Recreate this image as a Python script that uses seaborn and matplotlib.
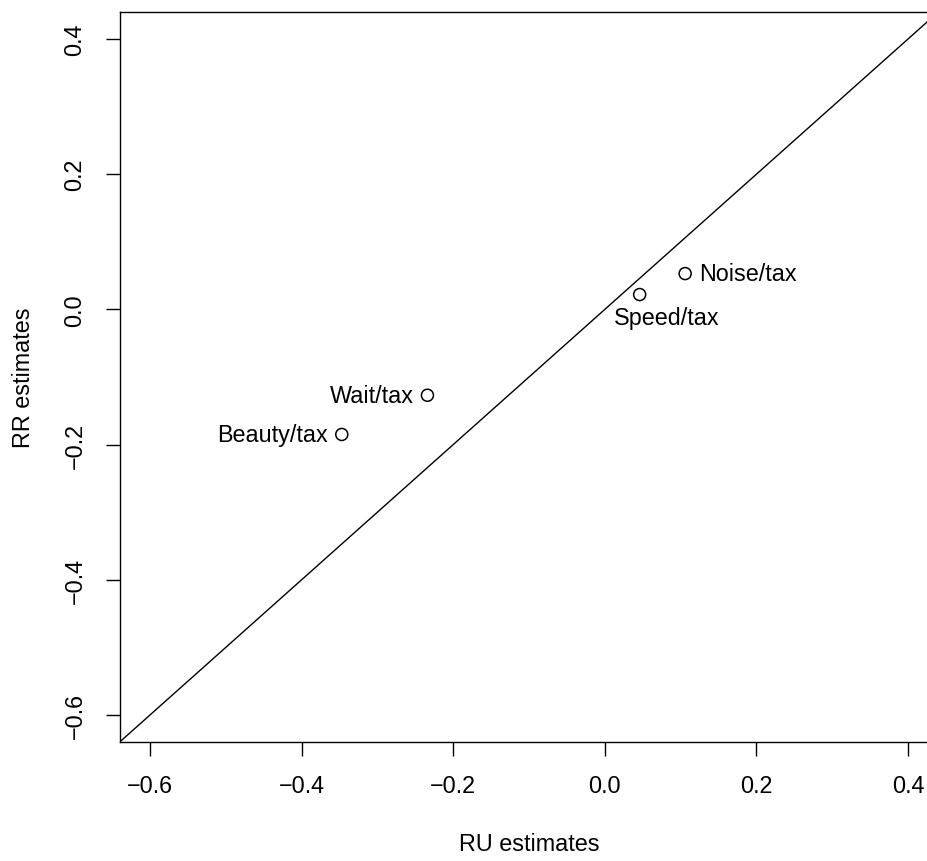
import matplotlib
matplotlib.use("Agg")
import matplotlib.pyplot as plt
import seaborn as sns
import pandas as pd

labels = ["Noise/tax", "Speed/tax", "Wait/tax", "Beauty/tax"]
ru = [0.106, 0.046, -0.234, -0.347]
rr = [0.053, 0.022, -0.127, -0.185]
positions = ["right", "below", "left", "left"]
ticks = [-0.6, -0.4, -0.2, 0.0, 0.2, 0.4]
tick_labels = ["\u22120.6", "\u22120.4", "\u22120.2", "0.0", "0.2", "0.4"]

sns.set_style("white")
plt.rcParams["font.family"] = ["Liberation Sans", "DejaVu Sans"]
for k in ["text.color", "axes.labelcolor", "xtick.color", "ytick.color", "axes.edgecolor"]:
    plt.rcParams[k] = "black"

FS = 16.8
df = pd.DataFrame({"RU": ru, "RR": rr, "label": labels})

W, H = 928, 862
fig = plt.figure(figsize=(W / 100, H / 100), dpi=100)
left, right, top, bottom = 119.7, 938.3, 13, 743
ax = fig.add_axes([left / W, (H - bottom) / H, (right - left) / W, (bottom - top) / H])

ax.axline((0, 0), slope=1, color="black", lw=1)
sns.scatterplot(data=df, x="RU", y="RR", ax=ax, marker="o", s=75,
                facecolor="none", edgecolor="black", linewidth=1.1, zorder=3)

for lab, x, y, p in zip(labels, ru, rr, positions):
    if p == "right":
        ax.annotate(lab, (x, y), xytext=(10, 0), textcoords="offset points",
                    ha="left", va="center", fontsize=FS)
    elif p == "left":
        ax.annotate(lab, (x, y), xytext=(-10, 0), textcoords="offset points",
                    ha="right", va="center", fontsize=FS)
    else:
        ax.annotate(lab, (x, y), xytext=(19.5, -16.5), textcoords="offset points",
                    ha="center", va="center", fontsize=FS)

ax.set_xlim(-0.64, 0.44)
ax.set_ylim(-0.64, 0.44)
ax.set_xticks(ticks)
ax.set_xticklabels(tick_labels)
ax.set_yticks(ticks)
ax.set_yticklabels(tick_labels, rotation=90, va="center")
ax.tick_params(axis="both", which="major", direction="out", length=10, width=1,
               color="black", labelsize=FS, bottom=True, left=True)
ax.tick_params(axis="x", pad=13)
ax.tick_params(axis="y", pad=14)
for s in ax.spines.values():
    s.set_color("black")
    s.set_linewidth(1)
ax.set_xlabel("RU estimates", fontsize=FS, va="center")
ax.set_ylabel("RR estimates", fontsize=FS, va="center")
ax.xaxis.set_label_coords(0.5, (bottom - 845) / (bottom - top))
ax.yaxis.set_label_coords((24 - left) / (right - left), 0.5)

fig.savefig("out.png", dpi=100)
